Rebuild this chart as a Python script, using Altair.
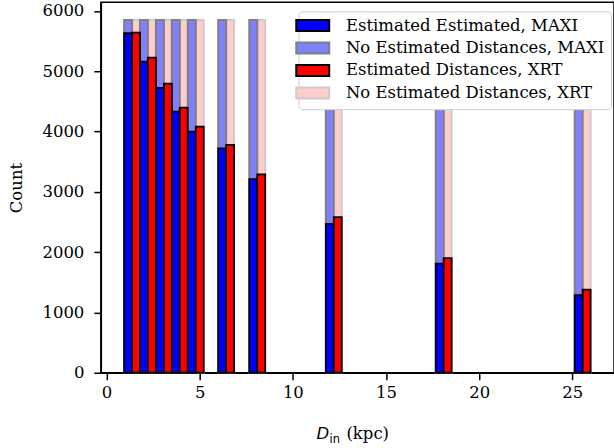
import altair as alt
import pandas as pd

# ---- data ----
group_left = [0.94, 1.79, 2.65, 3.50, 4.36, 5.99, 7.66, 11.77, 17.67, 25.13]
bar_width = 0.427
maxi_est = [5630, 5160, 4725, 4330, 4000, 3720, 3210, 2470, 1810, 1285]
xrt_est = [5640, 5225, 4795, 4395, 4080, 3780, 3290, 2580, 1900, 1380]
maxi_no = [5850, 5850, 5850, 5850, 5850, 5850, 5850, 5850, 5850, 5850]
xrt_no = [5850, 5850, 5850, 5850, 5850, 5850, 5850, 5850, 5850, 5850]
labels = ["Estimated Estimated, MAXI", "No Estimated Distances, MAXI",
          "Estimated Distances, XRT", "No Estimated Distances, XRT"]
x_ticks = [0, 5, 10, 15, 20, 25]
y_ticks = [0, 1000, 2000, 3000, 4000, 5000, 6000]

rows = []
for i, x0 in enumerate(group_left):
    rows.append(dict(series=labels[3], x=x0 + bar_width, x2=x0 + 2 * bar_width, y=xrt_no[i], kind="no"))
    rows.append(dict(series=labels[1], x=x0, x2=x0 + bar_width, y=maxi_no[i], kind="no"))
    rows.append(dict(series=labels[0], x=x0, x2=x0 + bar_width, y=maxi_est[i], kind="est"))
    rows.append(dict(series=labels[2], x=x0 + bar_width, x2=x0 + 2 * bar_width, y=xrt_est[i], kind="est"))
df = pd.DataFrame(rows)
df["y0"] = 0

SERIF = "DejaVu Serif"
FS = 16.5

fill_scale = alt.Scale(domain=labels, range=["#0000ff", "#8080ff", "#ff0000", "#ffcccc"])
stroke_scale = alt.Scale(domain=labels, range=["#000000", "#808080", "#000000", "#cccccc"])

legend = alt.Legend(
    title=None, orient="none", legendX=198, legendY=9,
    symbolType="M-3,-1H3V1H-3Z", symbolSize=121, symbolStrokeWidth=2,
    labelFont=SERIF, labelFontSize=FS, labelColor="black", labelOffset=25,
    rowPadding=2.5, padding=6, fillColor="white", strokeColor="#cccccc",
    cornerRadius=4, labelLimit=400,
)

x_enc = alt.X("x:Q", scale=alt.Scale(domain=[-0.31, 27.24], nice=False, zero=False),
              axis=alt.Axis(values=x_ticks, title=None, grid=False, labelFont=SERIF,
                            labelFontSize=FS, labelColor="black", domainColor="black",
                            domainWidth=1.5, tickColor="black", tickWidth=1.5, tickSize=7,
                            labelPadding=5, labelFlush=False))
y_enc = alt.Y("y:Q", scale=alt.Scale(domain=[0, 6142], nice=False),
              axis=alt.Axis(values=y_ticks, format="d", title="Count", grid=False, labelFont=SERIF,
                            labelFontSize=FS, labelColor="black", domainColor="black",
                            domainWidth=1.5, tickColor="black", tickWidth=1.5, tickSize=7,
                            labelPadding=10, titleFont=SERIF, titleFontSize=FS,
                            titleFontWeight="normal", titleColor="black", titlePadding=17,
                            labelFlush=False))

base = alt.Chart(df).encode(
    x=x_enc, x2="x2:Q", y=y_enc, y2="y0:Q",
    fill=alt.Fill("series:N", scale=fill_scale, legend=legend),
    stroke=alt.Stroke("series:N", scale=stroke_scale, legend=legend),
)

faded = base.transform_filter(alt.datum.kind == "no").mark_bar(strokeWidth=2)
solid = base.transform_filter(alt.datum.kind == "est").mark_bar(strokeWidth=1.8)

one = pd.DataFrame({"t": [""]})
t_d = alt.Chart(one).mark_text(text="D", font="DejaVu Sans", fontStyle="italic", fontSize=FS,
                               align="left", baseline="alphabetic", color="black").encode(
    x=alt.value(216), y=alt.value(437))
t_in = alt.Chart(one).mark_text(text="in", font="DejaVu Sans", fontSize=11.5,
                                align="left", baseline="alphabetic", color="black").encode(
    x=alt.value(229), y=alt.value(441))
t_kpc = alt.Chart(one).mark_text(text="(kpc)", font=SERIF, fontSize=FS,
                                 align="left", baseline="alphabetic", color="black").encode(
    x=alt.value(246), y=alt.value(437))

chart = alt.layer(faded, solid, t_d, t_in, t_kpc).properties(
    width=514, height=371,
    autosize=alt.AutoSizeParams(type="none"),
    padding={"left": 101, "top": 2, "right": 0, "bottom": 75},
).configure(background="white", font=SERIF
).configure_view(stroke="black", strokeWidth=1.5
).configure_axis(labelFont=SERIF, titleFont=SERIF
).configure_legend(labelFont=SERIF)

chart.save("out.html", embed_options={"renderer": "svg", "actions": False})
